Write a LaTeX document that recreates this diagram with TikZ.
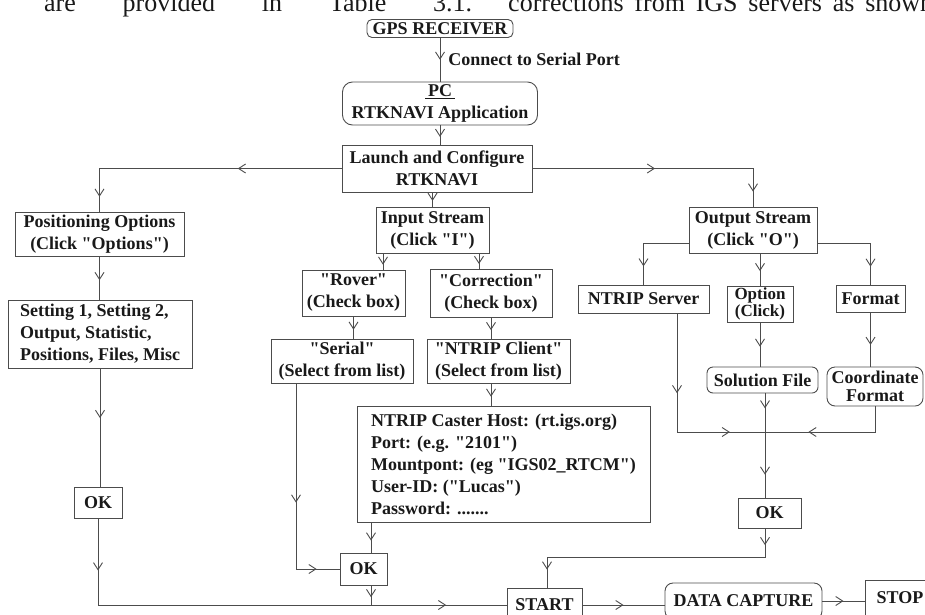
\documentclass[tikz,border=0pt]{standalone}
\usepackage{fontspec}
\setmainfont{Liberation Serif}
\usepackage{xcolor}
\usetikzlibrary{arrows.meta,decorations.markings}

\definecolor{linegray}{gray}{0.3}
\definecolor{inkgray}{gray}{0.1}
\newcommand{\inq}[1]{\textquotedbl#1\textquotedbl}

\tikzset{
	box/.style={draw=linegray, line width=0.9pt, inner sep=1.5pt, align=center, text=inkgray, font=\bfseries\fontsize{18}{22}\selectfont},
	rbox/.style={box, rounded corners=#1},
	link/.style={draw=linegray, line width=0.9pt},
	lbl/.style={text=inkgray, inner sep=0pt, font=\bfseries\fontsize{18}{22}\selectfont},
	arr/.style={postaction={decorate}, decoration={markings, mark=at position #1 with {\arrow{Straight Barb[length=7pt,width=9pt]}}}},
	arrr/.style 2 args={postaction={decorate}, decoration={markings, mark=at position #1 with {\arrow{Straight Barb[length=7pt,width=9pt]}}, mark=at position #2 with {\arrow{Straight Barb[length=7pt,width=9pt]}}}},
}

\begin{document}
\begin{tikzpicture}[x=1pt, y=-1pt]
			\path[use as bounding box] (0,0) rectangle (925,614);
			\clip (0,0) rectangle (925,614);
			\node (pagetext1) [anchor=base west, inner sep=0pt, text=inkgray, font=\fontsize{26}{30}\selectfont] at (44,11) {\makebox[428pt][s]{are provided in Table 3.1.}};
			\node (pagetext2) [anchor=base west, inner sep=0pt, text=inkgray, font=\fontsize{26}{30}\selectfont] at (508,11) {\makebox[425pt][s]{corrections from IGS servers as shown}};
			\node (gps) [rbox=5pt, minimum width=146pt, minimum height=18pt] at (440,28.5) {GPS RECEIVER};
			\node (pc) [rbox=10pt, minimum width=195pt, minimum height=43pt] at (440,103.5) {\underline{\,PC\,}\\RTKNAVI Application};
			\node (launch) [box, minimum width=190pt, minimum height=47pt] at (437,168.5) {Launch and Configure\\RTKNAVI};
			\node (posopt) [box, minimum width=169pt, minimum height=44pt] at (99.5,234) {Positioning Options\\(Click \inq{Options})};
			\node (settings) [box, align=left, minimum width=184pt, minimum height=68pt] at (100,334) {Setting 1, Setting 2,\\Output, Statistic,\\Positions, Files, Misc};
			\node (ok1) [box, minimum width=48pt, minimum height=31pt] at (98,502.5) {OK};
			\node (input) [box, minimum width=113pt, minimum height=46pt] at (432.5,230) {Input Stream\\(Click \inq{I})};
			\node (rover) [box, minimum width=103pt, minimum height=46pt] at (353.5,293) {\inq{Rover}\\(Check box)};
			\node (correction) [box, minimum width=122pt, minimum height=48pt] at (491,293) {\inq{Correction}\\(Check box)};
			\node (serial) [box, minimum width=142pt, minimum height=44pt] at (342,361) {\inq{Serial}\\(Select from list)};
			\node (client) [box, minimum width=143pt, minimum height=44pt] at (498.5,361) {\inq{NTRIP Client}\\(Select from list)};
			\node (caster) [box, align=left, minimum width=293pt, minimum height=116pt] at (503.5,464) {NTRIP Caster Host: (rt.igs.org)\\Port: (e.g. \inq{2101})\\Mountpont: (eg \inq{IGS02\_RTCM})\\User-ID: (\inq{Lucas})\\Password: .......};
			\node (ok2) [box, minimum width=47pt, minimum height=32pt] at (363.5,569) {OK};
			\node (output) [box, minimum width=128pt, minimum height=46pt] at (753,230) {Output Stream\\(Click \inq{O})};
			\node (server) [box, minimum width=131pt, minimum height=28pt] at (643.5,299) {NTRIP Server};
			\node (option) [box, inner sep=0.5pt, font=\bfseries\fontsize{17}{17}\selectfont, minimum width=66pt, minimum height=36pt] at (760,304) {Option\\(Click)};
			\node (format) [box, minimum width=69pt, minimum height=27pt] at (870.5,298.5) {Format};
			\node (solution) [rbox=6pt, minimum width=111pt, minimum height=26pt] at (762.5,380) {Solution File};
			\node (coord) [rbox=8pt, inner sep=0.5pt, font=\bfseries\fontsize{18}{18}\selectfont, minimum width=96pt, minimum height=39pt] at (875,386.5) {Coordinate\\Format};
			\node (ok3) [box, minimum width=63pt, minimum height=30pt] at (769.5,513) {OK};
			\node (start) [box, minimum width=75pt, minimum height=34pt] at (544.5,605) {START};
			\node (capture) [rbox=8pt, minimum width=157pt, minimum height=36pt] at (743.5,601) {DATA CAPTURE};
			\node (stop) [box, minimum width=70pt, minimum height=36pt] at (900,598) {STOP};
			\coordinate (rv) at ([xshift=29.5pt]rover.north);
			\coordinate (cr) at ([xshift=-12pt]correction.north);
			\coordinate (sr) at ([xshift=-46pt]serial.south);
			\coordinate (k2) at ([xshift=7.5pt]ok2.north);
			\coordinate (sv) at ([xshift=33.5pt]server.south);
			\coordinate (mg) at (765,432);
			\coordinate (k3) at (547,557);
			\draw[link, arr=0.5] (gps) -- node (conlabel) [lbl, anchor=west, xshift=8pt] {Connect to Serial Port} (pc);
			\draw[link, arr=0.6] (pc.south) -- (pc.south |- launch.north);
			\draw[link, arrr={0.364}{0.948}] (launch.west) -| (posopt.north);
			\draw[link, arrr={0.474}{0.942}] (launch.east) -| (output.north);
			\draw[link, arr=0.6] (input.north |- launch.south) -- (input.north);
			\draw[link, arr=0.55] (posopt.south) -- (posopt.south |- settings.north);
			\draw[link, arr=0.42] (settings.south) -- (settings.south |- ok1.north);
			\draw[link, arrr={0.105}{0.878}] (ok1.south) |- (start.west);
			\draw[link, arr=0.7] (rv |- input.south) -- (rv);
			\draw[link, arr=0.7] (cr |- input.south) -- (cr);
			\draw[link, arr=0.6] (rover.south) -- (rover.south |- serial.north);
			\draw[link, arr=0.6] (correction.south) -- (correction.south |- client.north);
			\draw[link, arr=0.6] (correction |- client.south) -- (correction |- caster.north);
			\draw[link, arrr={0.52}{0.9}] (sr) |- (ok2.west);
			\draw[link, arr=0.6] (k2 |- caster.south) -- (k2);
			\draw[link, arr=0.6] (k2 |- ok2.south) -- (k2 |- start);
			\draw[link, arr=0.79] ([yshift=-13pt]output.west) -| (server.north);
			\draw[link, arr=0.81] ([yshift=-13pt]output.east) -| (format.north);
			\draw[link, arr=0.55] (option.north |- output.south) -- (option.north);
			\draw[link, arr=0.55] (option.south) -- (option.south |- solution.north);
			\draw[link, arr=0.6] (format.south) -- (format.south |- coord.north);
			\draw[link, arrr={0.386}{0.83}] (sv) |- (mg);
			\draw[link, arr=0.68] (coord.south) |- (mg);
			\draw[link, arrr={0.143}{0.78}] (mg |- solution.south) -- (mg |- ok3.north);
			\draw[link, arrr={0.06}{0.935}] (mg |- ok3.south) |- (k3) -- (k3 |- start.north);
			\draw[link, arr=0.5] (start.east) -- (start.east -| capture.west);
			\draw[link, arr=0.5] (capture.east) -- (capture.east -| stop.west);
		\end{tikzpicture}
\end{document}
